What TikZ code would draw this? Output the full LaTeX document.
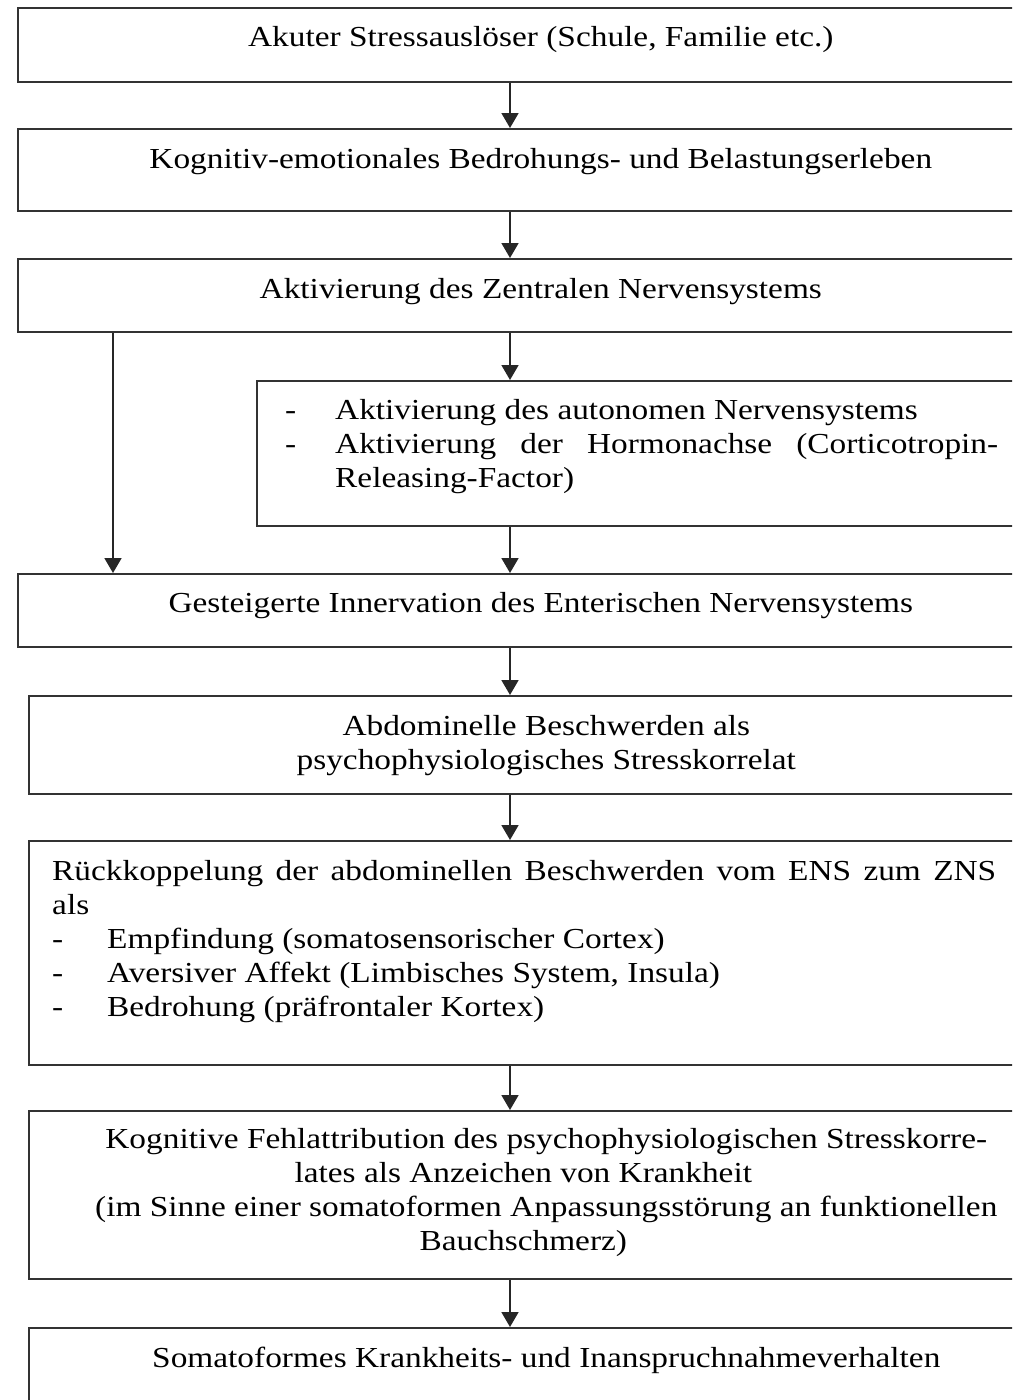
\documentclass[tikz,border=0pt]{standalone}
\usepackage{fontspec}
\setmainfont{Liberation Serif}[FakeStretch=1.15]
\usetikzlibrary{positioning,arrows.meta}
\tolerance=10000
\hbadness=10000

\tikzset{
	stage/.style={draw=black!80, line width=1.6pt, anchor=north west, inner sep=0pt},
	stagetext/.style={inner sep=0pt, align=center, font=\fontsize{29}{34}\selectfont},
	flow/.style={-{Triangle[length=15pt,width=17pt]}, line width=1.8pt, draw=black!85},
}
\newcommand{\listdash}[1]{\hangindent=#1\hangafter=1\noindent\makebox[#1][l]{-}}

\begin{document}
\begin{tikzpicture}[x=1pt, y=-1pt]
	\useasboundingbox (0,0) rectangle (1012,1400);
	\clip (0,0) rectangle (1012,1400);

	% boxes, right edges run past the page
	\node[stage, minimum width=1046, minimum height=74] (stress) at (17,7) {};
	\node[stage, minimum width=1046, minimum height=82] (threat) at (17,128) {};
	\node[stage, minimum width=1046, minimum height=73] (zns) at (17,258) {};
	\node[stage, minimum width=807, minimum height=145] (ans) at (256,380) {};
	\node[stage, minimum width=1046, minimum height=73] (ens) at (17,573) {};
	\node[stage, minimum width=1035, minimum height=98] (abd) at (28,695) {};
	\node[stage, minimum width=1035, minimum height=224] (feedback) at (28,840) {};
	\node[stage, minimum width=1035, minimum height=168] (attrib) at (28,1110) {};
	\node[stage, minimum width=1035, minimum height=93] (somat) at (28,1327) {};

	% texts
	\node[stagetext, below=19pt of stress.north] (stresslbl) {Akuter Stressauslöser (Schule, Familie etc.)};
	\node[stagetext, below=20pt of threat.north] (threatlbl) {Kognitiv-emotionales Bedrohungs- und Belastungserleben};
	\node[stagetext, below=20pt of zns.north] (znslbl) {Aktivierung des Zentralen Nervensystems};
	\node[stagetext, align=justify, text width=713pt, below right=19pt and 29pt of ans.north west] (anslbl) {%
		\listdash{50pt}Aktivierung des autonomen Nervensystems\par
		\listdash{50pt}Aktivierung der Hormonachse (Corticotropin-\linebreak Releasing-Factor)\par};
	\node[stagetext, below=19pt of ens.north] (enslbl) {Gesteigerte Innervation des Enterischen Nervensystems};
	\node[stagetext, below=20pt of abd.north] (abdlbl) {Abdominelle Beschwerden als\\psychophysiologisches Stresskorrelat};
	\node[stagetext, align=justify, text width=944pt, below right=20pt and 24pt of feedback.north west] (feedbacklbl) {%
		\noindent Rückkoppelung der abdominellen Beschwerden vom ENS zum ZNS\linebreak als\par
		\listdash{55pt}Empfindung (somatosensorischer Cortex)\par
		\listdash{55pt}Aversiver Affekt (Limbisches System, Insula)\par
		\listdash{55pt}Bedrohung (präfrontaler Kortex)\par};
	\node[stagetext, below=18pt of attrib.north] (attriblbl) {Kognitive Fehlattribution des psychophysiologischen Stresskorre-\\lates als Anzeichen von Krankheit\rule{46pt}{0pt}\\(im Sinne einer somatoformen Anpassungsstörung an funktionellen\\Bauchschmerz)\rule{46pt}{0pt}};
	\node[stagetext, below=20pt of somat.north] (somatlbl) {Somatoformes Krankheits- und Inanspruchnahmeverhalten};

	% arrows
	\coordinate (spine) at (510,0);
	\coordinate (bypass) at (113,0);
	\draw[flow] (stress.south -| spine) -- (threat.north -| spine);
	\draw[flow] (threat.south -| spine) -- (zns.north -| spine);
	\draw[flow] (zns.south -| spine) -- (ans.north -| spine);
	\draw[flow] (zns.south -| bypass) -- (ens.north -| bypass);
	\draw[flow] (ans.south -| spine) -- (ens.north -| spine);
	\draw[flow] (ens.south -| spine) -- (abd.north -| spine);
	\draw[flow] (abd.south -| spine) -- (feedback.north -| spine);
	\draw[flow] (feedback.south -| spine) -- (attrib.north -| spine);
	\draw[flow] (attrib.south -| spine) -- (somat.north -| spine);
\end{tikzpicture}
\end{document}
